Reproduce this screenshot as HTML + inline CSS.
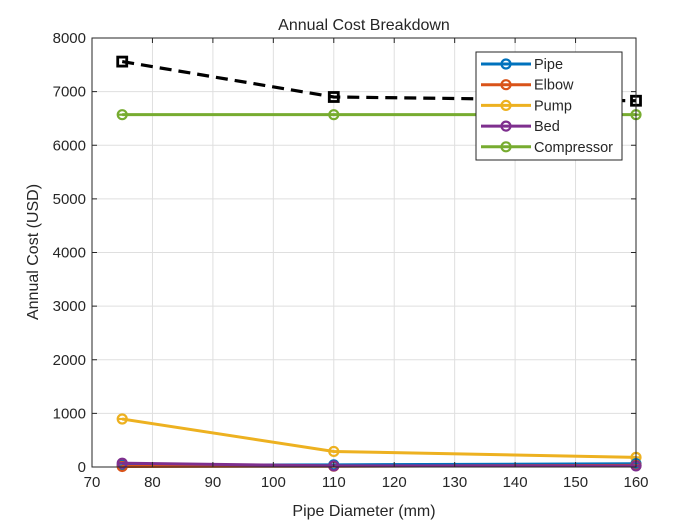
<!DOCTYPE html>
<html><head><meta charset="utf-8"><style>
body{margin:0;background:#fff;font-family:"Liberation Sans",sans-serif;}
svg text{font-family:"Liberation Sans",sans-serif;}
</style></head><body>
<svg id="chart" width="700" height="525" xmlns="http://www.w3.org/2000/svg">
<rect width="700" height="525" fill="#fff"/>
<g id="grid"></g>
<g id="series"></g>
<g id="axes"></g>
<text x="364" y="30" text-anchor="middle" font-size="16" fill="#262626">Annual Cost Breakdown</text>
<text x="364" y="516" text-anchor="middle" font-size="16" fill="#262626">Pipe Diameter (mm)</text>
<text transform="translate(38,252) rotate(-90)" text-anchor="middle" font-size="16" fill="#262626">Annual Cost (USD)</text>
<g id="legend"></g>
</svg>
<script>
const diameters=[75,110,160];
const seriesNames=["Pipe","Elbow","Pump","Bed","Compressor"];
const pipeVals=[30,40,60];
const elbowVals=[10,15,30];
const pumpVals=[895,290,180];
const bedVals=[70,20,20];
const compVals=[6570,6570,6570];
const totalVals=[7560,6900,6830];
const xTicks=[70,80,90,100,110,120,130,140,150,160];
const yTicks=[0,1000,2000,3000,4000,5000,6000,7000,8000];
const colors=["#0072BD","#D95319","#EDB120","#7E2F8E","#77AC30"];
const L=92,R=636,T=38,B=467;
const X=v=>L+(v-70)/90*(R-L);
const Y=v=>B-v/8000*(B-T);
const NS="http://www.w3.org/2000/svg";
function mk(tag,attrs,parent){const e=document.createElementNS(NS,tag);for(const k in attrs)e.setAttribute(k,attrs[k]);parent.appendChild(e);return e;}
const grid=document.getElementById('grid'),axes=document.getElementById('axes'),ser=document.getElementById('series'),leg=document.getElementById('legend');
xTicks.forEach(t=>{
 const l=mk('line',{x1:X(t),x2:X(t),y1:T,y2:B,stroke:'#dfdfdf','stroke-width':1},grid);
 
 
 mk('line',{x1:X(t),x2:X(t),y1:B,y2:B-5,stroke:'#262626'},axes);
 mk('line',{x1:X(t),x2:X(t),y1:T,y2:T+5,stroke:'#262626'},axes);
 const tx=mk('text',{x:X(t),y:B+20,'text-anchor':'middle','font-size':15,fill:'#262626'},axes);tx.textContent=t;
 
 
});
yTicks.forEach(t=>{
 const l=mk('line',{x1:L,x2:R,y1:Y(t),y2:Y(t),stroke:'#dfdfdf','stroke-width':1},grid);
 
 
 mk('line',{x1:L,x2:L+5,y1:Y(t),y2:Y(t),stroke:'#262626'},axes);
 mk('line',{x1:R,x2:R-5,y1:Y(t),y2:Y(t),stroke:'#262626'},axes);
 const tx=mk('text',{x:L-6,y:Y(t)+5,'text-anchor':'end','font-size':15,fill:'#262626'},axes);tx.textContent=t;
 
 
});
mk('rect',{x:L,y:T,width:R-L,height:B-T,fill:'none',stroke:'#262626'},axes);
function marker(x,y,c,p){
 mk('circle',{cx:x,cy:y,r:4.5,fill:'none',stroke:c,'stroke-width':2.2},p);
 mk('line',{x1:x-4.5,x2:x+4.5,y1:y,y2:y,stroke:c,'stroke-width':2.2},p);
}
function drawSeries(vals,c,name,dash){
 const g=mk('g',{},ser);
 
 
 const pts=diameters.map((d,i)=>X(d)+','+Y(vals[i])).join(' ');
 const a={points:pts,fill:'none',stroke:c,'stroke-width':dash?3.2:3};
 if(dash)a['stroke-dasharray']='12,7';
 mk('polyline',a,g);
 diameters.forEach((d,i)=>{
  if(dash){mk('rect',{x:X(d)-4.5,y:Y(vals[i])-4.5,width:9,height:9,fill:'none',stroke:c,'stroke-width':2.8},g);}
  else marker(X(d),Y(vals[i]),c,g);
 });
}
drawSeries(compVals,colors[4],'compressor-series');
drawSeries(pumpVals,colors[2],'pump-series');
drawSeries(pipeVals,colors[0],'pipe-series');
drawSeries(elbowVals,colors[1],'elbow-series');
drawSeries(bedVals,colors[3],'bed-series');
drawSeries(totalVals,'#000','total-series',true);
mk('rect',{x:476,y:52,width:146,height:108,fill:'#fff',stroke:'#262626'},leg);
seriesNames.forEach((n,i)=>{
 const y=64+i*20.7;
 const g=mk('g',{},leg);
 
 
 mk('line',{x1:481,x2:531,y1:y,y2:y,stroke:colors[i],'stroke-width':3},g);
 marker(506,y,colors[i],g);
 const t=mk('text',{x:534,y:y+5,'font-size':14.5,fill:'#262626'},g);t.textContent=n;
});
</script>
</body></html>
